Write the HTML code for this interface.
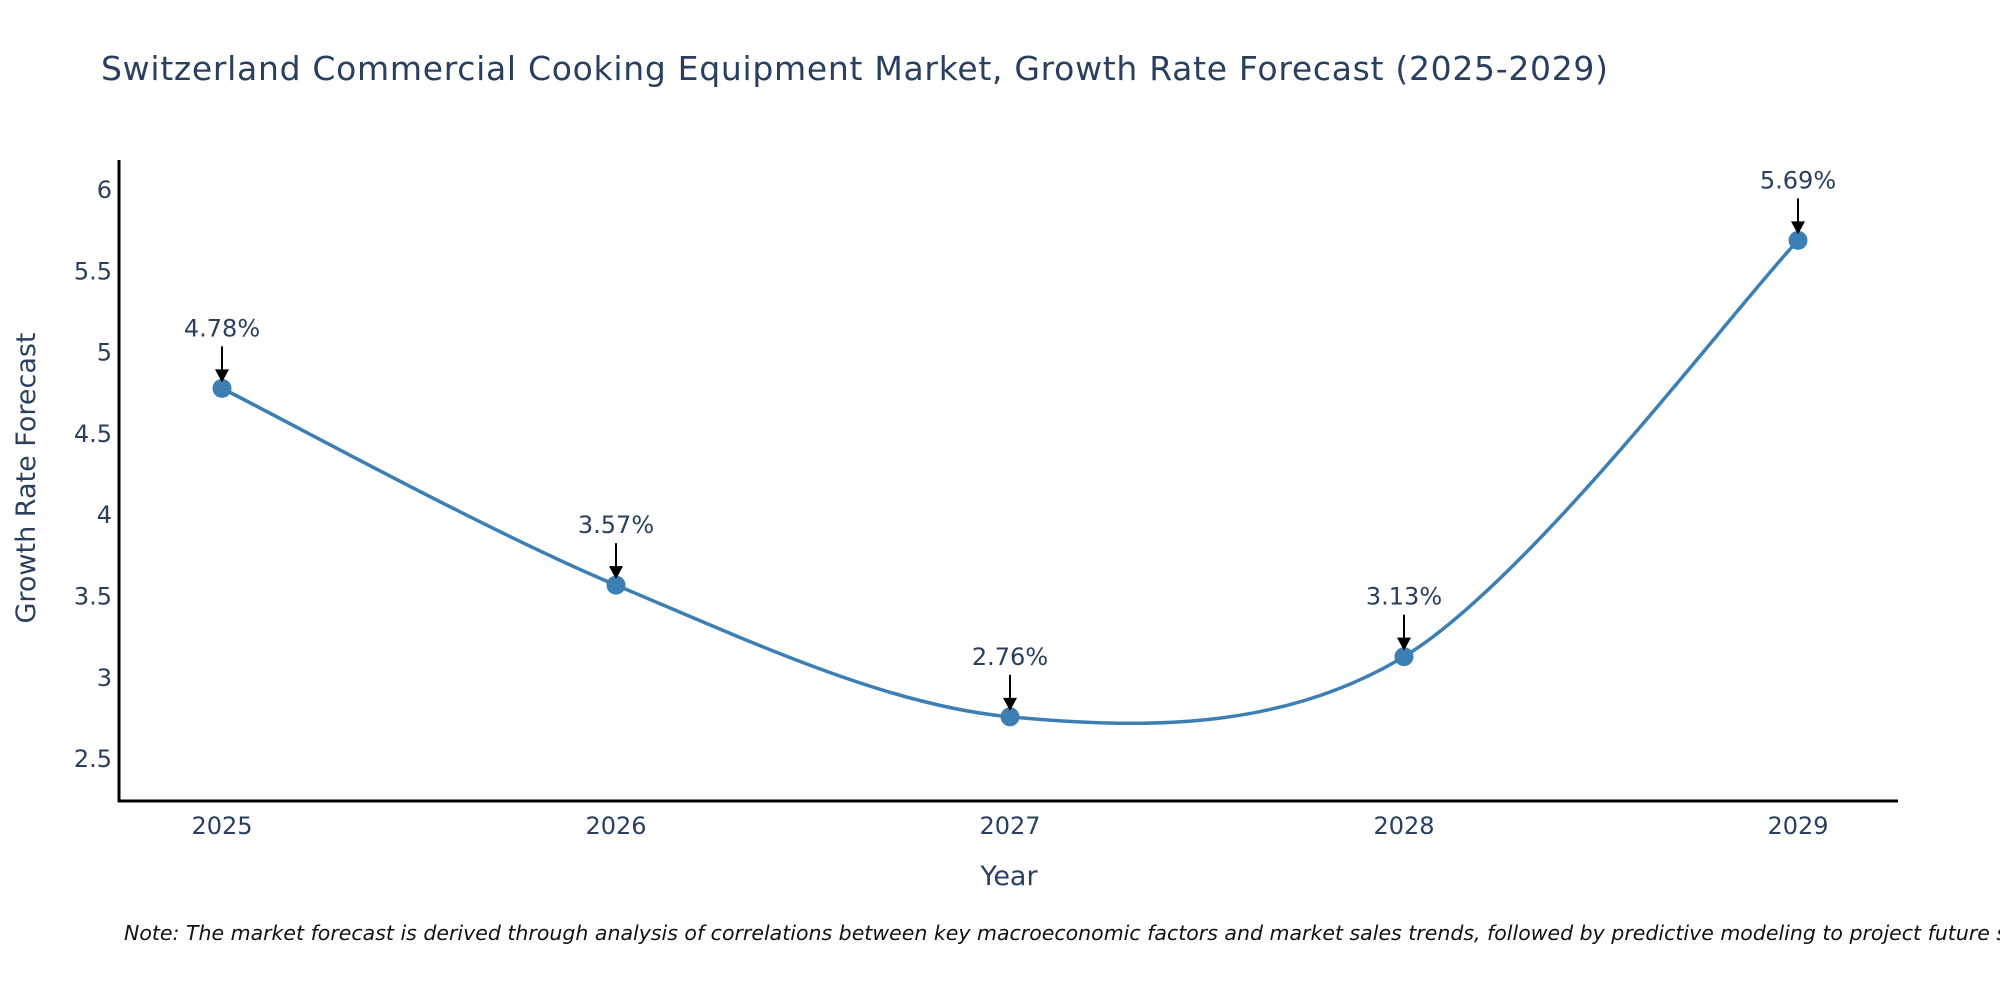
<!DOCTYPE html>
<html><head><meta charset="utf-8"><style>
html,body{margin:0;padding:0;background:#fff;width:2000px;height:1000px;overflow:hidden}
text{font-family:"DejaVu Sans","Liberation Sans",sans-serif;fill:#2a3f5f}
</style></head><body>
<svg id="chart" width="2000" height="1000">
<text x="101" y="80" font-size="33" textLength="1507">Switzerland Commercial Cooking Equipment Market, Growth Rate Forecast (2025-2029)</text>
<g id="yticks"></g>
<g id="xticks"></g>
<line x1="119" y1="160" x2="119" y2="802" stroke="#000" stroke-width="3"/>
<line x1="118" y1="801" x2="1898" y2="801" stroke="#000" stroke-width="3"/>
<text x="1009" y="885" font-size="27" text-anchor="middle">Year</text>
<text transform="translate(35,478) rotate(-90)" font-size="27" text-anchor="middle">Growth Rate Forecast</text>
<g id="series"></g>
<text x="124" y="940" font-size="20.5" font-style="italic" style="fill:#111">Note: The market forecast is derived through analysis of correlations between key macroeconomic factors and market sales trends, followed by predictive modeling to project future sales.</text>
</svg>
<script>
const years = ['2025','2026','2027','2028','2029'];
const values = [4.78, 3.57, 2.76, 3.13, 5.69];
const yTickValues = [2.5, 3, 3.5, 4, 4.5, 5, 5.5, 6];
const yTickLabels = ['2.5','3','3.5','4','4.5','5','5.5','6'];

const NS = 'http://www.w3.org/2000/svg';
function xPos(i){ return 222 + i * 394; }
function yPos(v){ return 190 + (6 - v) * 162.6; }
function mk(tag, attrs, parent){
  const el = document.createElementNS(NS, tag);
  for (const k in attrs) el.setAttribute(k, attrs[k]);
  parent.appendChild(el);
  return el;
}
const yt = document.getElementById('yticks');
yTickValues.forEach((v, i) => {
  const t = mk('text', {x: 112, y: yPos(v) + 8, 'font-size': 24, 'text-anchor': 'end'}, yt);
  
  
  t.textContent = yTickLabels[i];
});
const xt = document.getElementById('xticks');
years.forEach((y, i) => {
  const t = mk('text', {x: xPos(i), y: 834, 'font-size': 24, 'text-anchor': 'middle'}, xt);
  
  
  t.textContent = y;
});
const s = document.getElementById('series');
const pts = values.map((v, i) => [xPos(i), yPos(v)]);
let d = 'M' + pts[0][0] + ',' + pts[0][1];
const k = 0.16;
for (let i = 0; i < pts.length - 1; i++) {
  const p0 = pts[Math.max(0, i - 1)], p1 = pts[i], p2 = pts[i + 1], p3 = pts[Math.min(pts.length - 1, i + 2)];
  const c1 = [p1[0] + (p2[0] - p0[0]) * k, p1[1] + (p2[1] - p0[1]) * k];
  const c2 = [p2[0] - (p3[0] - p1[0]) * k, p2[1] - (p3[1] - p1[1]) * k];
  d += ' C' + c1 + ' ' + c2 + ' ' + p2;
}
const line = mk('path', {d: d, fill: 'none', stroke: '#3b7fb4', 'stroke-width': 3.5}, s);


pts.forEach((p, i) => {
  const c = mk('circle', {cx: p[0], cy: p[1], r: 9.5, fill: '#3b7fb4'}, s);
  
  
  const a = mk('line', {x1: p[0], y1: p[1] - 42, x2: p[0], y2: p[1] - 16, stroke: '#000', 'stroke-width': 2}, s);
  
  
  const h = mk('polygon', {points: (p[0]-7)+','+(p[1]-19)+' '+(p[0]+7)+','+(p[1]-19)+' '+p[0]+','+(p[1]-6), fill: '#000'}, s);
  
  
  const t = mk('text', {x: p[0], y: p[1] - 52, 'font-size': 24, 'text-anchor': 'middle'}, s);
  
  
  t.textContent = values[i].toFixed(2) + '%';
});
</script>
</body></html>
